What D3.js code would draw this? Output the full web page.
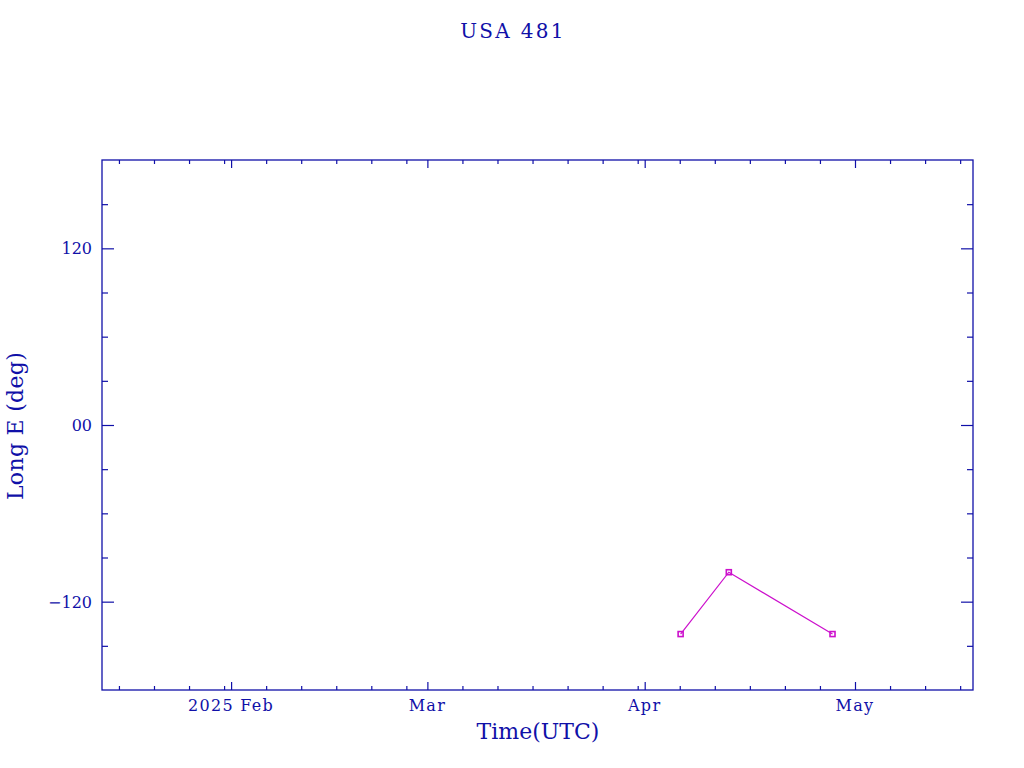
<!DOCTYPE html>
<html>
<head>
<meta charset="utf-8">
<script src="https://cdn.jsdelivr.net/npm/d3@7"></script>
<style>
  html, body { margin: 0; padding: 0; background: #fff; }
  svg { display: block; }
  text { font-family: "DejaVu Serif", "Liberation Serif", serif; fill: #1010a8; }
</style>
</head>
<body>
<svg id="chart" width="1024" height="768"></svg>
<script>
// ---- data ----
const title = "USA 481";
const xLabel = "Time(UTC)";
const yLabel = "Long E (deg)";
const obsTimes = ["2025-04-06T03:00:00Z", "2025-04-13T00:00:00Z", "2025-04-27T19:00:00Z"];
const longitudes = [-142, -100, -142];
const xDomain = ["2025-01-13T14:00:00Z", "2025-05-17T20:00:00Z"];
const yDomain = [-180, 180];
const xMajorTicks = ["2025-02-01T00:00:00Z", "2025-03-01T00:00:00Z", "2025-04-01T00:00:00Z", "2025-05-01T00:00:00Z"];
const xMajorLabels = ["2025 Feb", "Mar", "Apr", "May"];
const yMajorTicks = [-120, 0, 120];
const yMajorLabels = ["\u2212120", "00", "120"];
const yMinorTicks = [-150, -90, -60, -30, 30, 60, 90, 150];

// ---- layout ----
const svg = d3.select("#chart");
const L = 102, R = 973, T = 160, B = 690;
const axisColor = "#1010a8";
const lineColor = "#cc10cc";

const x = d3.scaleUtc().domain(xDomain.map(d => new Date(d))).range([L, R]);
const y = d3.scaleLinear().domain(yDomain).range([B, T]);

// minor x ticks: days 6,11,16,21,26,31 of each month within domain
const xMinorTicks = d3.utcDay.range(x.domain()[0], x.domain()[1])
  .filter(d => [6, 11, 16, 21, 26, 31].includes(d.getUTCDate()));

const majorX = xMajorTicks.map(d => new Date(d));

function styleAxis(g) {
  g.selectAll("path.domain").remove();
  g.selectAll(".tick line").attr("stroke", axisColor).attr("stroke-width", 1.2);
  g.selectAll(".tick text").remove();
}

// frame
svg.append("rect").attr("x", L).attr("y", T).attr("width", R - L).attr("height", B - T)
  .attr("fill", "none").attr("stroke", axisColor).attr("stroke-width", 1.3);

// bottom axis
svg.append("g").attr("transform", `translate(0,${B})`)
  .call(d3.axisBottom(x).tickValues(xMinorTicks).tickSize(-4)).call(styleAxis);
svg.append("g").attr("transform", `translate(0,${B})`)
  .call(d3.axisBottom(x).tickValues(majorX).tickSize(-8)).call(styleAxis);
// top axis
svg.append("g").attr("transform", `translate(0,${T})`)
  .call(d3.axisTop(x).tickValues(xMinorTicks).tickSize(-4)).call(styleAxis);
svg.append("g").attr("transform", `translate(0,${T})`)
  .call(d3.axisTop(x).tickValues(majorX).tickSize(-8)).call(styleAxis);
// left axis
svg.append("g").attr("transform", `translate(${L},0)`)
  .call(d3.axisLeft(y).tickValues(yMinorTicks).tickSize(-6)).call(styleAxis);
svg.append("g").attr("transform", `translate(${L},0)`)
  .call(d3.axisLeft(y).tickValues(yMajorTicks).tickSize(-12)).call(styleAxis);
// right axis
svg.append("g").attr("transform", `translate(${R},0)`)
  .call(d3.axisRight(y).tickValues(yMinorTicks).tickSize(-6)).call(styleAxis);
svg.append("g").attr("transform", `translate(${R},0)`)
  .call(d3.axisRight(y).tickValues(yMajorTicks).tickSize(-12)).call(styleAxis);

// x tick labels
svg.append("g").selectAll("text").data(majorX).join("text")
  .attr("x", d => x(d)).attr("y", 711)
  .attr("text-anchor", "middle")
  .style("font-size", "16px").style("letter-spacing", "1.3px")
  .text((d, i) => xMajorLabels[i]);

// y tick labels
svg.append("g").selectAll("text").data(yMajorTicks).join("text")
  .attr("x", 92).attr("y", d => y(d) + 6)
  .attr("text-anchor", "end")
  .style("font-size", "16px")
  .text((d, i) => yMajorLabels[i]);

// title
svg.append("text").attr("x", 513).attr("y", 38).attr("text-anchor", "middle")
  .style("font-size", "20px").style("letter-spacing", "2.3px").text(title);

// axis titles
svg.append("text").attr("x", 538).attr("y", 739).attr("text-anchor", "middle")
  .style("font-size", "22px").text(xLabel);
svg.append("text").attr("transform", "translate(23,426) rotate(-90)")
  .attr("text-anchor", "middle")
  .style("font-size", "22px").style("letter-spacing", "0.3px").text(yLabel);

// data
const pts = obsTimes.map((t, i) => ({ t: new Date(t), v: longitudes[i] }));
svg.append("path").datum(pts)
  .attr("fill", "none").attr("stroke", lineColor).attr("stroke-width", 1.2)
  .attr("d", d3.line().x(d => x(d.t)).y(d => y(d.v)));
svg.append("g").selectAll("rect").data(pts).join("rect")
  .attr("x", d => x(d.t) - 2.5).attr("y", d => y(d.v) - 2.5)
  .attr("width", 5).attr("height", 5)
  .attr("fill", "none").attr("stroke", lineColor).attr("stroke-width", 1.6);
</script>
</body>
</html>
